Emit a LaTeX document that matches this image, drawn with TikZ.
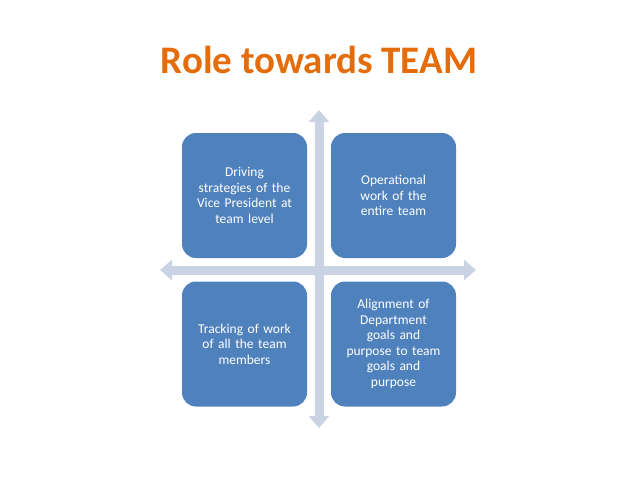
\documentclass[tikz,border=0pt]{standalone}
\usepackage{fontspec}
\setmainfont{Carlito}
\usetikzlibrary{arrows.meta}
\definecolor{boxblue}{HTML}{4F81BD}
\definecolor{axisgray}{HTML}{C9D3E4}
\definecolor{titleorange}{HTML}{E46C0A}
\tikzset{
  quadbox/.style={fill=boxblue, rounded corners=14pt, minimum width=125pt, minimum height=125pt,
    text=white, text width=118pt, align=center, font=\fontsize{13.5}{15.5}\selectfont, inner sep=0pt},
  axis/.style={axisgray, line width=9pt, -{Triangle[width=20pt,length=12pt]}}
}
\begin{document}
\begin{tikzpicture}[x=1pt,y=-1pt]
    \useasboundingbox (0,0) rectangle (638,479);
    \node[text=titleorange, font=\fontsize{39}{44}\selectfont\bfseries] (title) at (319,60) {Role towards TEAM};
    % ---- axes
    \coordinate (top) at (319,110);
    \coordinate (bottom) at (319,428);
    \coordinate (left) at (160,270);
    \coordinate (right) at (476,270);
    \coordinate (centre) at (319,270);
    \draw[axis] (centre) -- (top);
    \draw[axis] (centre) -- (bottom);
    \draw[axis] (centre) -- (left);
    \draw[axis] (centre) -- (right);
    % ---- quadrants
    \node[quadbox] (drive) at (244.5,195.5) {Driving\\strategies of the\\Vice President at\\team level};
    \node[quadbox] (oper) at (393.5,195.5) {Operational\\work of the\\entire team};
    \node[quadbox] (track) at (244.5,344) {Tracking of work\\of all the team\\members};
    \node[quadbox] (align) at (393.5,344) {Alignment of\\Department\\goals and\\purpose to team\\goals and\\purpose};
\end{tikzpicture}
\end{document}
